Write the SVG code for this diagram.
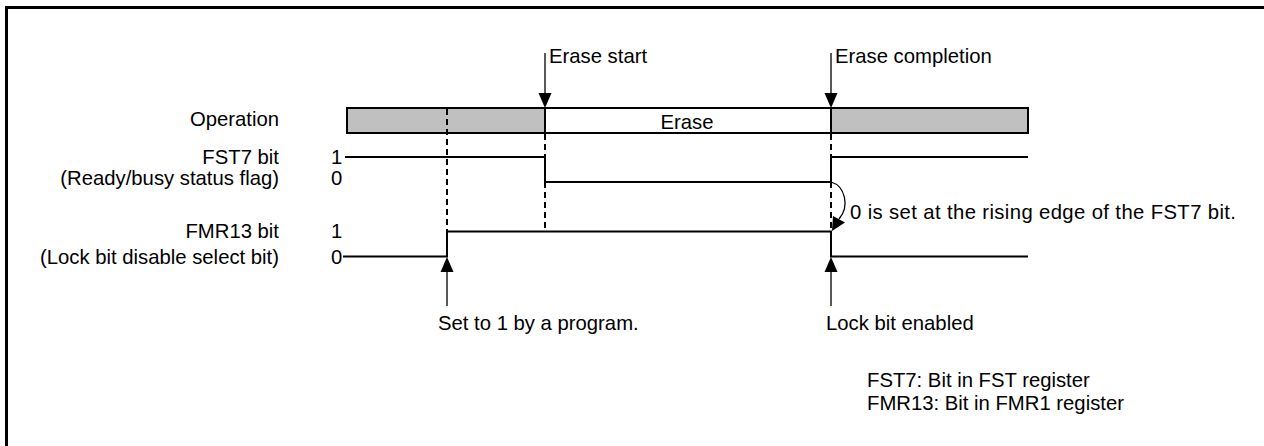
<svg xmlns="http://www.w3.org/2000/svg" width="1264" height="446" viewBox="0 0 1264 446">
<style>
text{font-family:"Liberation Sans",Arial,sans-serif;font-size:20.3px;fill:#000}
.r{text-anchor:end}
.sig{fill:none;stroke:#000;stroke-width:2}
.dash{fill:none;stroke:#000;stroke-width:2;stroke-dasharray:6 4}
.ar{fill:none;stroke:#000;stroke-width:1.3}
.head{fill:#000}
</style>
<rect x="0" y="0" width="1264" height="446" fill="#fff"/>
<path d="M6.5 460 V7.5 H1280" fill="none" stroke="#000" stroke-width="3"/>

<g id="labels">
<text class="r" x="279" y="126">Operation</text>
<text class="r" x="279" y="164">FST7 bit</text>
<text class="r" x="279" y="185">(Ready/busy status flag)</text>
<text class="r" x="279" y="238">FMR13 bit</text>
<text class="r" x="279" y="264">(Lock bit disable select bit)</text>
<text x="331" y="164">1</text>
<text x="331" y="185">0</text>
<text x="331" y="238">1</text>
<text x="331" y="264">0</text>
</g>

<g id="operation">
<rect x="347" y="108" width="198" height="25" fill="#c0c0c0" stroke="#000" stroke-width="2"/>
<rect x="545" y="108" width="286" height="25" fill="#fff" stroke="#000" stroke-width="2"/>
<rect x="831" y="108" width="197" height="25" fill="#c0c0c0" stroke="#000" stroke-width="2"/>
<text x="687" y="129" text-anchor="middle">Erase</text>
</g>

<g id="fst7">
<path class="sig" d="M345 157 H545 V182 H831 V157 H1028"/>
</g>

<g id="fmr13">
<path class="sig" d="M343 256.5 H447 V231.5 H831 V256.5 H1028"/>
</g>

<g id="connectors">
<path class="dash" d="M447 109 V231"/>
<path class="dash" d="M545 134 V157 M545 182 V231"/>
<path class="dash" d="M831 134 V157 M831 182 V231"/>
<path class="ar" d="M545 53 V94"/>
<polygon class="head" points="538.5,93 551.5,93 545,108"/>
<path class="ar" d="M831 53 V94"/>
<polygon class="head" points="824.5,93 837.5,93 831,108"/>
<path class="ar" d="M447 306 V271"/>
<polygon class="head" points="440.5,272 453.5,272 447,257"/>
<path class="ar" d="M831 306 V271"/>
<polygon class="head" points="824.5,272 837.5,272 831,257"/>
<path class="ar" d="M831 182 C845 186 850 206 839 219"/>
<polygon class="head" points="832,231 833,216 845,222.5"/>
</g>

<g id="annotations">
<text x="549" y="63">Erase start</text>
<text x="835" y="63">Erase completion</text>
<text x="850" y="219" textLength="386">0 is set at the rising edge of the FST7 bit.</text>
<text x="438" y="330">Set to 1 by a program.</text>
<text x="826" y="330">Lock bit enabled</text>
<text x="867" y="387">FST7: Bit in FST register</text>
<text x="867" y="410">FMR13: Bit in FMR1 register</text>
</g>
</svg>
